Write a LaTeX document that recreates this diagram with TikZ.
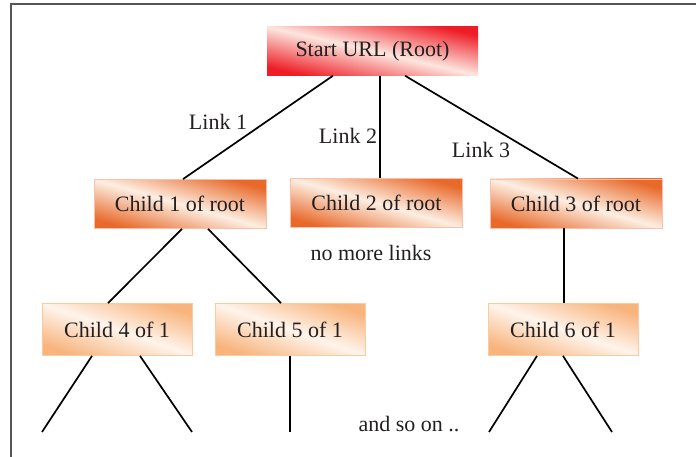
\documentclass[tikz,border=0pt]{standalone}
\usepackage{fontspec}
\setmainfont{Liberation Serif}
\definecolor{rootred}{HTML}{EE1C25}
\definecolor{rootmid}{HTML}{FDE6DF}
\definecolor{midorange}{HTML}{E8692A}
\definecolor{midlight}{HTML}{FDEEE2}
\definecolor{leafpeach}{HTML}{F8B47C}
\definecolor{leaflight}{HTML}{FEF4EB}
\definecolor{framegray}{HTML}{555555}
\definecolor{inktext}{HTML}{231F20}
\begin{document}
\begin{tikzpicture}[x=1pt,y=-1pt,
  txt/.style={font=\fontsize{22}{26}\selectfont, text=inktext, inner sep=0pt},
  boxbase/.style={txt, minimum height=49pt},
  rootbox/.style={boxbase, minimum width=211pt, top color=rootred, bottom color=rootred, middle color=rootmid, shading angle=-13},
  midbox/.style={boxbase, minimum width=172pt, top color=midorange, bottom color=midorange, middle color=midlight, shading angle=-16, draw=midorange!40, line width=0.8pt},
  leafbox/.style={boxbase, minimum width=150pt, minimum height=52pt, top color=leafpeach, bottom color=leafpeach, middle color=leaflight, shading angle=-19, draw=leafpeach!70, line width=0.8pt},
  link/.style={draw=black, line width=1.7pt},
  frame/.style={draw=framegray, line width=2pt}
]
\useasboundingbox (0,0) rectangle (696,457);

% partial page frame
\draw[frame] (10.5,457) -- (10.5,4.5) -- (696,4.5);

% tree nodes
\node[rootbox] (root) at (372.5,51) {Start URL (Root)};
\node[midbox] (c1) at (180,204) {Child 1 of root};
\node[midbox] (c2) at (376.5,203) {Child 2 of root};
\node[midbox] (c3) at (576,203.5) {Child 3 of root};
\node[leafbox] (c4) at (117,329.5) {Child 4 of 1};
\node[leafbox] (c5) at (290,329.5) {Child 5 of 1};
\node[leafbox] (c6) at (563,329.5) {Child 6 of 1};

% loose ends of the next level
\coordinate (e4a) at (42,432);
\coordinate (e4b) at (192,432);
\coordinate (e5a) at (290,432);
\coordinate (e6a) at (489,432);
\coordinate (e6b) at (612,432);

% connectors
\draw[link] ([xshift=-39.5pt]root.south) -- ([xshift=3pt]c1.north);
\draw[link] ([xshift=7.5pt]root.south) -- ([xshift=3.5pt]c2.north);
\draw[link] ([xshift=32.5pt]root.south) -- ([xshift=2pt]c3.north);
\draw[link] ([xshift=2pt]c1.south) -- ([xshift=-9pt]c4.north);
\draw[link] ([xshift=28pt]c1.south) -- ([xshift=-9pt]c5.north);
\draw[link] ([xshift=-12pt]c3.south) -- ([xshift=1pt]c6.north);
\draw[link] ([xshift=-25pt]c4.south) -- (e4a);
\draw[link] ([xshift=23pt]c4.south) -- (e4b);
\draw[link] (c5.south) -- (e5a);
\draw[link] ([xshift=-26pt]c6.south) -- (e6a);
\draw[link] (c6.south) -- (e6b);

% labels
\node[txt] (l1) at (218,122) {Link 1};
\node[txt] (l2) at (348,136) {Link 2};
\node[txt] (l3) at (481,150) {Link 3};
\node[txt] (nomore) at (371,253) {no more links};
\node[txt] (soon) at (409,424) {and so on ..};
\end{tikzpicture}
\end{document}
